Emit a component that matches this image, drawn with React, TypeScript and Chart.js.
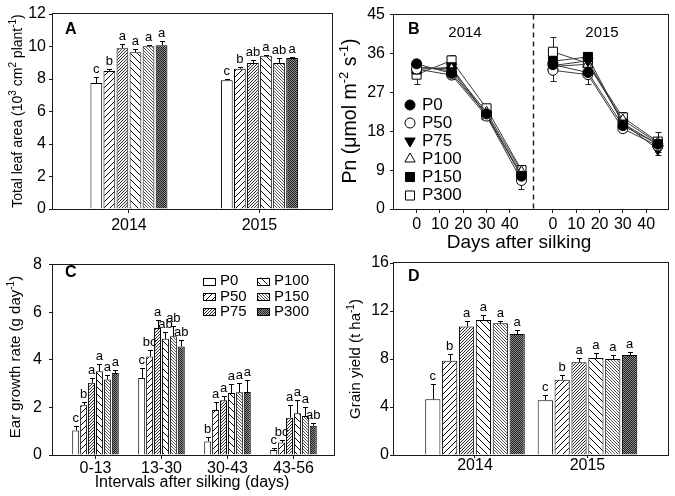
import React, { useEffect, useRef } from 'react';
import { Chart, registerables } from 'chart.js';

Chart.register(...registerables);

const FONT = "'Liberation Sans', Arial, Helvetica, sans-serif";
const INK = '#000000';
const FRAME = '#1a1a1a';

// ---------- shared ----------
const treatments = ['P0', 'P50', 'P75', 'P100', 'P150', 'P300'];

// ---------- Panel A: total leaf area ----------
const yearLabels = ['2014', '2015'];
const leafAreaMean = [
  [7.75, 7.93],
  [8.5, 8.63],
  [9.9, 8.98],
  [9.65, 9.43],
  [10.02, 8.98],
  [10.08, 9.3],
];
const leafAreaErr = [
  [0.36, 0.06],
  [0.13, 0.08],
  [0.24, 0.16],
  [0.19, 0.03],
  [0.05, 0.3],
  [0.25, 0.06],
];
const leafAreaLetters = [
  ['c', 'c'],
  ['b', 'b'],
  ['a', 'ab'],
  ['a', 'a'],
  ['a', 'ab'],
  ['a', 'a'],
];

// ---------- Panel B: Pn ----------
const days = [0, 15, 30, 45];
const dayTicks = [0, 10, 20, 30, 40];
const pnYears = ['2014', '2015'];
const pn2014 = [
  [33.6, 31.4, 22.0, 7.6],
  [32.4, 31.0, 21.5, 6.6],
  [32.9, 32.0, 21.8, 7.9],
  [32.8, 32.4, 22.4, 8.6],
  [32.3, 32.8, 21.7, 7.6],
  [31.1, 34.4, 23.3, 9.0],
];
const pn2014Err = [
  [0.9, 0.8, 0.8, 0.8],
  [1.0, 1.0, 0.9, 2.0],
  [0.8, 0.9, 0.8, 0.9],
  [0.8, 0.9, 0.8, 0.9],
  [0.8, 0.9, 0.8, 0.8],
  [2.1, 1.2, 0.9, 0.8],
];
const pn2015 = [
  [33.4, 31.6, 19.3, 15.0],
  [32.1, 31.1, 18.6, 14.6],
  [33.2, 34.3, 19.9, 13.8],
  [33.0, 33.5, 20.6, 15.3],
  [34.2, 35.2, 19.8, 15.0],
  [36.4, 33.7, 21.2, 15.6],
];
const pn2015Err = [
  [1.0, 1.0, 0.9, 1.0],
  [2.4, 2.1, 0.8, 1.0],
  [1.0, 1.0, 0.9, 1.2],
  [1.0, 1.0, 0.9, 1.0],
  [1.0, 0.9, 0.9, 1.0],
  [3.5, 1.0, 1.3, 2.3],
];
const yearDayOffset = [0, 58.5];
const yearDivider = 50;

// ---------- Panel C: ear growth rate ----------
const intervals = ['0-13', '13-30', '30-43', '43-56'];
const earRateMean = [
  [1.03, 3.24, 0.57, 0.21],
  [2.09, 4.14, 1.89, 0.52],
  [3.04, 5.34, 2.3, 1.57],
  [3.52, 4.88, 2.6, 1.75],
  [3.17, 4.99, 2.64, 1.64],
  [3.45, 4.56, 2.65, 1.23],
];
const earRateErr = [
  [0.2, 0.41, 0.18, 0.09],
  [0.15, 0.28, 0.33, 0.12],
  [0.2, 0.34, 0.19, 0.51],
  [0.31, 0.28, 0.4, 0.55],
  [0.18, 0.41, 0.4, 0.37],
  [0.11, 0.27, 0.5, 0.11],
];
const earRateLetters = [
  ['c', 'c', 'b', 'c'],
  ['b', 'bc', 'a', 'bc'],
  ['a', 'a', 'a', 'a'],
  ['a', 'ab', 'a', 'a'],
  ['a', 'ab', 'a', 'a'],
  ['a', 'ab', 'a', 'ab'],
];

// ---------- Panel D: grain yield ----------
const yieldMean = [
  [4.65, 4.57],
  [7.85, 6.27],
  [10.7, 7.72],
  [11.25, 8.08],
  [10.97, 7.99],
  [10.08, 8.33],
];
const yieldErr = [
  [1.25, 0.39],
  [0.55, 0.42],
  [0.48, 0.36],
  [0.39, 0.42],
  [0.2, 0.37],
  [0.34, 0.22],
];
const yieldLetters = [
  ['c', 'c'],
  ['b', 'b'],
  ['a', 'a'],
  ['a', 'a'],
  ['a', 'a'],
  ['a', 'a'],
];

// ---------- helpers ----------
type Seg = [string, boolean?];

function drawRich(ctx: CanvasRenderingContext2D, segs: Seg[], x: number, y: number, size: number, vertical: boolean) {
  const supSize = Math.round(size * 0.68);
  ctx.save();
  ctx.translate(x, y);
  if (vertical) ctx.rotate(-Math.PI / 2);
  ctx.fillStyle = INK;
  ctx.textAlign = 'left';
  ctx.textBaseline = 'alphabetic';
  let total = 0;
  for (const [t, sup] of segs) {
    ctx.font = `${sup ? supSize : size}px ${FONT}`;
    total += ctx.measureText(t).width;
  }
  let cx = -total / 2;
  const base = size * 0.36;
  for (const [t, sup] of segs) {
    ctx.font = `${sup ? supSize : size}px ${FONT}`;
    ctx.fillText(t, cx, sup ? base - size * 0.42 : base);
    cx += ctx.measureText(t).width;
  }
  ctx.restore();
}

function drawText(ctx: CanvasRenderingContext2D, t: string, x: number, y: number, size: number, align: CanvasTextAlign, bold = false) {
  ctx.save();
  ctx.fillStyle = INK;
  ctx.font = `${bold ? 'bold ' : ''}${size}px ${FONT}`;
  ctx.textAlign = align;
  ctx.textBaseline = 'middle';
  ctx.fillText(t, x, y);
  ctx.restore();
}

function drawFrame(chart: any) {
  const ctx: CanvasRenderingContext2D = chart.ctx;
  const { left, top, right, bottom } = chart.chartArea;
  ctx.save();
  ctx.strokeStyle = FRAME;
  ctx.lineWidth = 1;
  ctx.strokeRect(Math.round(left) - 0.5, Math.round(top) - 0.5, Math.round(right - left) + 1, Math.round(bottom - top) + 1);
  ctx.restore();
}

function makePatterns(): any[] {
  const mk = (s: number, bg: string, draw: (c: CanvasRenderingContext2D) => void) => {
    const cv = document.createElement('canvas');
    cv.width = s;
    cv.height = s;
    const c = cv.getContext('2d') as CanvasRenderingContext2D;
    c.fillStyle = bg;
    c.fillRect(0, 0, s, s);
    draw(c);
    return (document.createElement('canvas').getContext('2d') as CanvasRenderingContext2D).createPattern(cv, 'repeat');
  };
  const fwd = (s: number, color: string, lw: number) => (c: CanvasRenderingContext2D) => {
    c.strokeStyle = color;
    c.lineWidth = lw;
    c.beginPath();
    c.moveTo(0, s); c.lineTo(s, 0);
    c.moveTo(-1, 1); c.lineTo(1, -1);
    c.moveTo(s - 1, s + 1); c.lineTo(s + 1, s - 1);
    c.stroke();
  };
  const back = (s: number, color: string, lw: number) => (c: CanvasRenderingContext2D) => {
    c.strokeStyle = color;
    c.lineWidth = lw;
    c.beginPath();
    c.moveTo(0, 0); c.lineTo(s, s);
    c.moveTo(s - 1, -1); c.lineTo(s + 1, 1);
    c.moveTo(-1, s - 1); c.lineTo(1, s + 1);
    c.stroke();
  };
  const dots = (c: CanvasRenderingContext2D) => {
    c.fillStyle = '#222222';
    c.fillRect(0, 0, 1, 1);
    c.fillRect(1, 1, 1, 1);
  };
  return [
    '#ffffff',
    mk(6, '#ffffff', fwd(6, '#000', 1)),
    mk(3, '#f4f4f4', fwd(3, '#333', 1)),
    mk(7, '#ffffff', back(7, '#000', 1)),
    mk(3, '#ffffff', back(3, '#555', 1)),
    mk(2, '#8a8a8a', dots),
  ];
}

function barErrorPlugin(errs: number[][], letters: string[][]) {
  return {
    id: 'barErrors',
    afterDatasetsDraw(chart: any) {
      const ctx: CanvasRenderingContext2D = chart.ctx;
      const ys = chart.scales.y;
      ctx.save();
      ctx.strokeStyle = INK;
      ctx.lineWidth = 1;
      ctx.fillStyle = INK;
      ctx.font = `13px ${FONT}`;
      ctx.textAlign = 'center';
      ctx.textBaseline = 'bottom';
      chart.data.datasets.forEach((ds: any, i: number) => {
        const meta = chart.getDatasetMeta(i);
        meta.data.forEach((bar: any, j: number) => {
          const v = ds.data[j].y;
          const e = errs[i][j];
          const x = Math.round(bar.x) + 0.5;
          const y1 = Math.round(ys.getPixelForValue(v + e)) + 0.5;
          ctx.beginPath();
          ctx.moveTo(x, bar.y);
          ctx.lineTo(x, y1);
          ctx.moveTo(x - 2.5, y1);
          ctx.lineTo(x + 2.5, y1);
          ctx.stroke();
          ctx.fillText(letters[i][j], bar.x, y1 - 1.5);
        });
      });
      ctx.restore();
    },
  };
}

function decorPlugin(fn: (ctx: CanvasRenderingContext2D, chart: any) => void) {
  return {
    id: 'decor',
    afterDraw(chart: any) {
      drawFrame(chart);
      fn(chart.ctx, chart);
    },
  };
}

type BarOpts = {
  cats: string[];
  means: number[][];
  errs: number[][];
  letters: string[][];
  pats: any[];
  yMax: number;
  yStep: number;
  xMin: number;
  xMax: number;
  catPct: number;
  barPct: number;
  yW: number;
  xH: number;
  padTop: number;
  padRight: number;
  yPad: number;
  xPad: number;
  xTickLen: number;
  decorate: (ctx: CanvasRenderingContext2D, chart: any) => void;
};

function barConfig(p: BarOpts): any {
  return {
    type: 'bar',
    data: {
      datasets: treatments.map((t, i) => ({
        label: t,
        data: p.cats.map((_, j) => ({ x: j, y: p.means[i][j] })),
        backgroundColor: p.pats[i],
        borderColor: INK,
        borderWidth: 1,
        categoryPercentage: p.catPct,
        barPercentage: p.barPct,
      })),
    },
    options: {
      animation: false,
      responsive: false,
      events: [],
      layout: { padding: { left: 0, top: p.padTop, right: p.padRight, bottom: 0 } },
      plugins: { legend: { display: false }, tooltip: { enabled: false } },
      scales: {
        x: {
          type: 'linear',
          min: p.xMin,
          max: p.xMax,
          offset: false,
          afterBuildTicks: (s: any) => {
            s.ticks = p.cats.map((_, j) => ({ value: j }));
          },
          afterFit: (s: any) => {
            s.height = p.xH;
          },
          ticks: {
            callback: (_v: any, idx: number) => p.cats[idx],
            font: { family: FONT, size: 16 },
            color: INK,
            padding: p.xPad,
            autoSkip: false,
            maxRotation: 0,
          },
          grid: { offset: false, drawOnChartArea: false, drawTicks: true, tickLength: p.xTickLen, color: FRAME },
          border: { display: false },
        },
        y: {
          min: 0,
          max: p.yMax,
          afterFit: (s: any) => {
            s.width = p.yW;
          },
          ticks: { stepSize: p.yStep, font: { family: FONT, size: 16 }, color: INK, padding: p.yPad },
          grid: { drawOnChartArea: false, drawTicks: true, tickLength: 4, color: FRAME },
          border: { display: false },
        },
      },
    },
    plugins: [barErrorPlugin(p.errs, p.letters), decorPlugin(p.decorate)],
  };
}

const markerDefs = [
  { style: 'circle', rot: 0, fill: '#000000', r: 5 },
  { style: 'circle', rot: 0, fill: '#ffffff', r: 5 },
  { style: 'triangle', rot: 180, fill: '#000000', r: 6 },
  { style: 'triangle', rot: 0, fill: '#ffffff', r: 6 },
  { style: 'rect', rot: 0, fill: '#000000', r: 6.4 },
  { style: 'rect', rot: 0, fill: '#ffffff', r: 6.4 },
];

function drawMarker(ctx: CanvasRenderingContext2D, m: any, x: number, y: number) {
  ctx.save();
  ctx.fillStyle = m.fill;
  ctx.strokeStyle = INK;
  ctx.lineWidth = 1;
  ctx.beginPath();
  if (m.style === 'circle') {
    ctx.arc(x, y, m.r, 0, Math.PI * 2);
  } else if (m.style === 'triangle') {
    let a = (m.rot * Math.PI) / 180;
    for (let k = 0; k < 3; k++) {
      const px = x + Math.sin(a) * m.r;
      const py = y - Math.cos(a) * m.r;
      if (k === 0) ctx.moveTo(px, py);
      else ctx.lineTo(px, py);
      a += (2 * Math.PI) / 3;
    }
    ctx.closePath();
  } else {
    const h = m.r * Math.SQRT1_2;
    ctx.rect(x - h, y - h, 2 * h, 2 * h);
  }
  ctx.fill();
  ctx.stroke();
  ctx.restore();
}

function pnConfig(): any {
  const yearVals = [pn2014, pn2015];
  const yearErrs = [pn2014Err, pn2015Err];
  const datasets: any[] = [];
  pnYears.forEach((_, yi) => {
    treatments.forEach((t, i) => {
      const m = markerDefs[i];
      datasets.push({
        label: t,
        data: days.map((d, k) => ({ x: d + yearDayOffset[yi], y: yearVals[yi][i][k] })),
        borderColor: '#3a3a3a',
        borderWidth: 1,
        pointStyle: m.style,
        rotation: m.rot,
        pointRadius: m.r,
        pointBackgroundColor: m.fill,
        pointBorderColor: INK,
        pointBorderWidth: 1,
        tension: 0,
        _err: yearErrs[yi][i],
      });
    });
  });
  const ticksAll: number[] = [];
  yearDayOffset.forEach((o) => dayTicks.forEach((d) => ticksAll.push(d + o)));
  const errPlugin = {
    id: 'pnErr',
    beforeDatasetsDraw(chart: any) {
      const ctx: CanvasRenderingContext2D = chart.ctx;
      const xs = chart.scales.x;
      const ys = chart.scales.y;
      ctx.save();
      ctx.strokeStyle = '#222';
      ctx.lineWidth = 1;
      chart.data.datasets.forEach((ds: any) => {
        ds.data.forEach((pt: any, k: number) => {
          const e = ds._err[k];
          const x = Math.round(xs.getPixelForValue(pt.x)) + 0.5;
          const yTop = Math.round(ys.getPixelForValue(pt.y + e)) + 0.5;
          const yBot = Math.round(ys.getPixelForValue(pt.y - e)) + 0.5;
          ctx.beginPath();
          ctx.moveTo(x, yTop);
          ctx.lineTo(x, yBot);
          ctx.moveTo(x - 3, yTop);
          ctx.lineTo(x + 3, yTop);
          ctx.moveTo(x - 3, yBot);
          ctx.lineTo(x + 3, yBot);
          ctx.stroke();
        });
      });
      ctx.restore();
    },
  };
  const decor = decorPlugin((ctx, chart) => {
    const xs = chart.scales.x;
    const { top, bottom } = chart.chartArea;
    const dx = Math.round(xs.getPixelForValue(yearDivider)) + 0.5;
    ctx.save();
    ctx.strokeStyle = '#222';
    ctx.lineWidth = 1.5;
    ctx.setLineDash([5, 4]);
    ctx.beginPath();
    ctx.moveTo(dx, top);
    ctx.lineTo(dx, bottom);
    ctx.stroke();
    ctx.restore();
    drawText(ctx, 'B', 71, 30, 16, 'left', true);
    drawText(ctx, pnYears[0], 128, 33, 15, 'center');
    drawText(ctx, pnYears[1], 265, 33, 15, 'center');
    drawRich(ctx, [['Pn (μmol m'], ['-2', true], [' s'], ['-1', true], [')']], 12, 111, 19.5, true);
    drawRich(ctx, [['Days after silking']], 182, 241, 19, false);
    const rows = [105, 123, 141, 159, 177, 195.5];
    treatments.forEach((t, i) => {
      drawMarker(ctx, markerDefs[i], 73, rows[i]);
      drawText(ctx, t, 85, rows[i], 17, 'left');
    });
  });
  return {
    type: 'line',
    data: { datasets },
    options: {
      animation: false,
      responsive: false,
      events: [],
      layout: { padding: { left: 0, top: 14, right: 7, bottom: 0 } },
      plugins: { legend: { display: false }, tooltip: { enabled: false } },
      scales: {
        x: {
          type: 'linear',
          min: -9.7,
          max: 107.7,
          afterBuildTicks: (s: any) => {
            s.ticks = ticksAll.map((v) => ({ value: v }));
          },
          afterFit: (s: any) => {
            s.height = 49;
          },
          ticks: {
            callback: (_v: any, idx: number) => String(dayTicks[idx % dayTicks.length]),
            font: { family: FONT, size: 16 },
            color: INK,
            padding: 2,
            autoSkip: false,
            maxRotation: 0,
          },
          grid: { drawOnChartArea: false, drawTicks: true, tickLength: 4, color: FRAME },
          border: { display: false },
        },
        y: {
          min: 0,
          max: 45,
          afterFit: (s: any) => {
            s.width = 57;
          },
          ticks: { stepSize: 9, font: { family: FONT, size: 16 }, color: INK, padding: 5 },
          grid: { drawOnChartArea: false, drawTicks: true, tickLength: 4, color: FRAME },
          border: { display: false },
        },
      },
    },
    plugins: [errPlugin, decor],
  };
}

export default function App() {
  const refA = useRef<HTMLCanvasElement>(null);
  const refB = useRef<HTMLCanvasElement>(null);
  const refC = useRef<HTMLCanvasElement>(null);
  const refD = useRef<HTMLCanvasElement>(null);

  useEffect(() => {
    const pats = makePatterns();
    const chartA = new Chart(
      refA.current as HTMLCanvasElement,
      barConfig({
        cats: yearLabels,
        means: leafAreaMean,
        errs: leafAreaErr,
        letters: leafAreaLetters,
        pats,
        yMax: 12,
        yStep: 2,
        xMin: -0.582,
        xMax: 1.556,
        catPct: 0.6,
        barPct: 0.9,
        yW: 53,
        xH: 39,
        padTop: 14,
        padRight: 5,
        yPad: 3,
        xPad: 3,
        xTickLen: 4,
        decorate: (ctx) => {
          drawText(ctx, 'A', 65, 30, 16, 'left', true);
          drawRich(ctx, [['Total leaf area (10'], ['3', true], [' cm'], ['2', true], [' plant'], ['-1', true], [')']], 17, 111, 14, true);
        },
      })
    );
    const chartB = new Chart(refB.current as HTMLCanvasElement, pnConfig());
    const chartC = new Chart(
      refC.current as HTMLCanvasElement,
      barConfig({
        cats: intervals,
        means: earRateMean,
        errs: earRateErr,
        letters: earRateLetters,
        pats,
        yMax: 8,
        yStep: 2,
        xMin: -0.644,
        xMax: 3.614,
        catPct: 0.72,
        barPct: 0.88,
        yW: 53,
        xH: 41,
        padTop: 12,
        padRight: 3,
        yPad: 7,
        xPad: 0,
        xTickLen: 4,
        decorate: (ctx) => {
          drawText(ctx, 'C', 65, 24.5, 16, 'left', true);
          drawRich(ctx, [['Ear growth rate (g day'], ['-1', true], [')']], 15, 109, 15, true);
          drawRich(ctx, [['Intervals after silking (days)']], 192, 233, 16, false);
          const cols = [203, 257];
          const rows = [33, 48.7, 63.7];
          treatments.forEach((t, i) => {
            const cx = cols[Math.floor(i / 3)];
            const cy = rows[i % 3];
            ctx.save();
            ctx.fillStyle = pats[i];
            ctx.fillRect(cx, cy - 3.5, 12, 7);
            ctx.strokeStyle = INK;
            ctx.lineWidth = 1;
            ctx.strokeRect(cx + 0.5, Math.round(cy - 3.5) + 0.5, 12, 7);
            ctx.restore();
            drawText(ctx, t, cx + 17, cy, 15, 'left');
          });
        },
      })
    );
    const chartD = new Chart(
      refD.current as HTMLCanvasElement,
      barConfig({
        cats: yearLabels,
        means: yieldMean,
        errs: yieldErr,
        letters: yieldLetters,
        pats,
        yMax: 16,
        yStep: 4,
        xMin: -0.72,
        xMax: 1.716,
        catPct: 0.9,
        barPct: 0.9,
        yW: 57,
        xH: 41,
        padTop: 15,
        padRight: 7,
        yPad: 1,
        xPad: -2,
        xTickLen: 3,
        decorate: (ctx) => {
          drawText(ctx, 'D', 71, 28.7, 16, 'left', true);
          drawRich(ctx, [['Grain yield (t ha'], ['-1', true], [')']], 18, 111, 15, true);
        },
      })
    );
    return () => {
      chartA.destroy();
      chartB.destroy();
      chartC.destroy();
      chartD.destroy();
    };
  }, []);

  const pos = (l: number, t: number, w: number, h: number): React.CSSProperties => ({
    position: 'absolute',
    left: l,
    top: t,
    width: w,
    height: h,
  });

  return (
    <div style={{ position: 'absolute', left: 0, top: 0, width: 675, height: 496, background: '#ffffff', overflow: 'hidden' }}>
      <canvas ref={refA} width={337} height={248} style={pos(0, 0, 337, 248)} />
      <canvas ref={refC} width={337} height={248} style={pos(0, 248, 337, 248)} />
      <canvas ref={refD} width={338} height={248} style={pos(337, 248, 338, 248)} />
      <canvas ref={refB} width={338} height={258} style={pos(337, 0, 338, 258)} />
    </div>
  );
}
